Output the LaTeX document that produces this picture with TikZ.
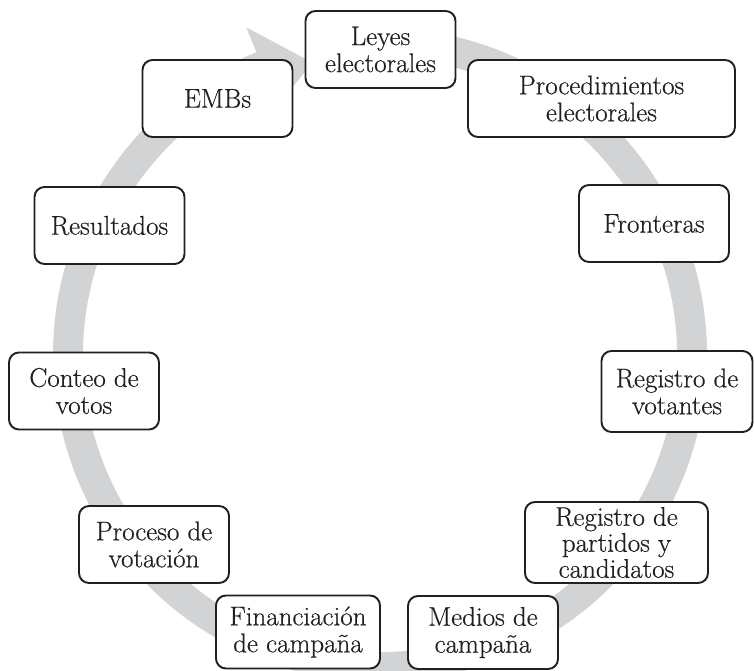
\documentclass[tikz,border=0pt]{standalone}
\usepackage{fontspec}
\setmainfont{Latin Modern Roman}[FakeBold=0.5]
\usepackage{tikz}
\definecolor{ringgray}{RGB}{209,211,212}
\definecolor{inkgray}{RGB}{35,31,32}

\begin{document}
\begin{tikzpicture}[x=1pt, y=1pt]
	\tikzstyle{every node}=[inner sep=0pt, align=center, text=inkgray, font=\fontsize{27}{27}\selectfont]
	\tikzstyle{box}=[draw=inkgray, line width=1.9pt, rounded corners=10pt, fill=white, minimum width=150pt, minimum height=77pt]
	\useasboundingbox (0,0) rectangle (754,670);
	% the grey cycle arrow
	\begin{scope}[shift={(380pt,315pt)}]
		\fill[ringgray] (100:327pt) arc[start angle=100, end angle=-247.8, radius=327pt]
			-- (112.2:354pt) -- (103:300pt) -- (112.2:270pt) -- (112.2:297pt)
			arc[start angle=-247.8, end angle=100, radius=297pt] -- cycle;
	\end{scope}
	\node[box] (leyes) at (380.5, 620.5) {Leyes\\electorales};
	\node[box, minimum width=267pt] (proc) at (601.5, 571.5) {Procedimientos\\electorales};
	\node[box] (front) at (654, 446.5) {Fronteras};
	\node[box, minimum width=151pt, minimum height=81pt] (regvot) at (677, 278.5) {Registro de\\votantes};
	\node[box, minimum width=183pt, minimum height=81pt, font=\fontsize{27}{26}\selectfont] (regpart) at (616.5, 127.5) {Registro de\\partidos y\\candidatos};
	\node[box, minimum height=73pt] (medios) at (483, 37.5) {Medios de\\campaña};
	\node[box, minimum width=164pt, minimum height=73pt] (financ) at (298, 38) {Financiación\\de campaña};
	\node[box] (proceso) at (154, 125.5) {Proceso de\\votación};
	\node[box] (conteo) at (84, 279) {Conteo de\\votos};
	\node[box] (result) at (109.5, 444.5) {Resultados};
	\node[box] (embs) at (217.5, 571.5) {EMBs};
\end{tikzpicture}
\end{document}
